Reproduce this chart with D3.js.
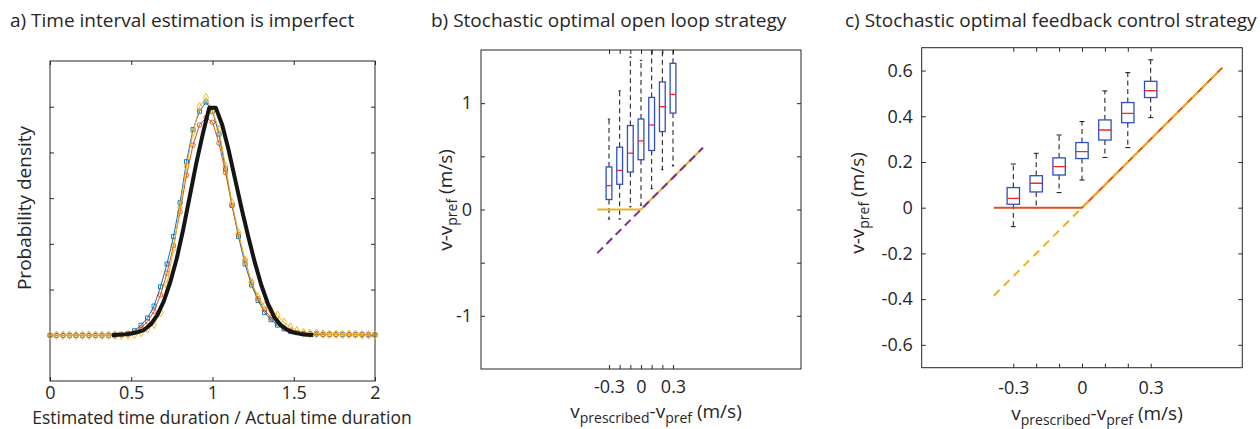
<!DOCTYPE html>
<html>
<head>
<meta charset="utf-8">
<script src="https://cdn.jsdelivr.net/npm/d3@7"></script>
<style>
body{margin:0;background:#fff}
text{font-family:"Open Sans","Noto Sans",sans-serif;fill:#262626}
</style>
</head>
<body>
<div id="fig"></div>
<script>

// ---- panel a : distributions of estimated / actual duration
var aX = [0,0.04,0.08,0.12,0.16,0.2,0.24,0.28,0.32,0.36,0.4,0.44,0.48,0.52,0.56,0.6,0.64,0.68,0.72,0.76,0.8,0.84,0.88,0.92,0.96,1,1.04,1.08,1.12,1.16,1.2,1.24,1.28,1.32,1.36,1.4,1.44,1.48,1.52,1.56,1.6,1.64,1.68,1.72,1.76,1.8,1.84,1.88,1.92,1.96,2]
var aBlue = [0,0,0,0,0,0,0,0,0,0,0.005,0.01,0.02,0.05,0.11,0.19,0.32,0.53,0.78,1.08,1.45,1.9,2.25,2.45,2.55,2.45,2.2,1.82,1.42,1.08,0.78,0.55,0.38,0.25,0.17,0.11,0.07,0.04,0.03,0.02,0.015,0.015,0.01,0.01,0.01,0.01,0.01,0.01,0.01,0.005,0.005]
var aRed = [0,0,0,0,0,0,0,0,0,0,0,0.005,0.01,0.03,0.08,0.15,0.26,0.44,0.68,0.98,1.35,1.75,2.08,2.3,2.38,2.33,2.1,1.78,1.42,1.1,0.82,0.58,0.4,0.28,0.19,0.13,0.08,0.05,0.03,0.02,0.015,0.01,0.01,0.01,0.01,0.005,0.005,0.005,0.005,0.005,0.005]
var aYellow = [0,0,0,0,0,0,0,0,0,0,0,0,0.005,0.01,0.03,0.07,0.12,0.25,0.55,0.95,1.4,1.85,2.22,2.5,2.6,2.45,2.25,1.85,1.45,1.12,0.82,0.58,0.42,0.32,0.27,0.22,0.14,0.09,0.05,0.03,0.02,0.02,0.015,0.01,0.01,0.01,0.01,0.01,0.005,0.005,0.005]
var aModelX = [0.38,0.42,0.46,0.5,0.54,0.58,0.62,0.66,0.7,0.74,0.78,0.82,0.86,0.9,0.94,0.98,1.02,1.06,1.1,1.14,1.18,1.22,1.26,1.3,1.34,1.38,1.42,1.46,1.5,1.54,1.58,1.62]
var aModel = [0,0.005,0.01,0.02,0.035,0.06,0.12,0.22,0.37,0.58,0.84,1.16,1.52,1.88,2.2,2.49,2.49,2.3,2.02,1.7,1.38,1.08,0.8,0.55,0.35,0.2,0.11,0.06,0.03,0.015,0.007,0.003]
var aXTicks = [0,0.5,1,1.5,2]
var aYTicks = [0,0.5,1,1.5,2,2.5]

// ---- panel b : open loop boxplots
var bPos = [-0.3,-0.2,-0.1,0,0.1,0.2,0.3]
var bLow = [-0.09,-0.09,0.025,0.04,0.196,0.374,0.41]
var bQ1 = [0.094,0.237,0.352,0.468,0.555,0.733,0.907]
var bMed = [0.225,0.368,0.53,0.645,0.795,0.967,1.082]
var bQ3 = [0.4,0.586,0.789,0.851,1.054,1.2,1.375]
var bHigh = [0.85,1.116,1.434,1.403,1.75,1.95,2.1]
var bLineX = [-0.41,0,0.58]
var bOpenLoop = [0,0,0.58]
var bDiagX = [-0.41,0.58]
var bDiag = [-0.41,0.58]
var bYTicks = [-1,-0.5,0,0.5,1]
var bYLabels = [-1,0,1]

// ---- panel c : feedback control boxplots
var cPos = [-0.3,-0.2,-0.1,0,0.1,0.2,0.3]
var cLow = [-0.083,0,0.066,0.121,0.22,0.263,0.394]
var cQ1 = [0.015,0.069,0.143,0.215,0.296,0.372,0.482]
var cMed = [0.041,0.107,0.18,0.245,0.34,0.413,0.512]
var cQ3 = [0.088,0.14,0.218,0.285,0.384,0.46,0.553]
var cHigh = [0.191,0.238,0.318,0.377,0.511,0.591,0.647]
var cLineX = [-0.385,0,0.613]
var cFeedback = [0,0,0.613]
var cDiagX = [-0.385,0.613]
var cDiag = [-0.385,0.613]
var cYTicks = [-0.6,-0.4,-0.2,0,0.2,0.4,0.6]

var vTicks = [-0.3,-0.2,-0.1,0,0.1,0.2,0.3]
var vLabels = [-0.3,0,0.3]

var W = 1260, H = 429
var axisCol = "#262626"

var svg = d3.select("#fig").append("svg")
	.attr("width", W)
	.attr("height", H)

function fmt(d){ return String(d) }

// box frame + inward ticks on all four sides
function frame(g, x, y, xt, yt, xlab, ylab, xpad, ypad, fs)
{
	var x0 = x.range()[0], x1 = x.range()[1], y0 = y.range()[0], y1 = y.range()[1]

	g.append("g").attr("transform", "translate(0," + y0 + ")")
		.call(d3.axisBottom(x).tickValues(xt).tickSizeInner(-4).tickSizeOuter(0).tickPadding(xpad)
			.tickFormat(function(d){ return xlab.indexOf(d) >= 0 ? fmt(d) : "" }))
	g.append("g").attr("transform", "translate(0," + y1 + ")")
		.call(d3.axisTop(x).tickValues(xt).tickSizeInner(-4).tickSizeOuter(0).tickFormat(""))
	g.append("g").attr("transform", "translate(" + x0 + ",0)")
		.call(d3.axisLeft(y).tickValues(yt).tickSizeInner(-4).tickSizeOuter(0).tickPadding(ypad)
			.tickFormat(function(d){ return ylab.indexOf(d) >= 0 ? fmt(d) : "" }))
	g.append("g").attr("transform", "translate(" + x1 + ",0)")
		.call(d3.axisRight(y).tickValues(yt).tickSizeInner(-4).tickSizeOuter(0).tickFormat(""))

	g.selectAll(".domain").remove()
	g.selectAll(".tick line").attr("stroke", axisCol)
	g.selectAll(".tick text").attr("font-size", fs).attr("fill", axisCol)
		.style("font-family", "'Open Sans', sans-serif")

	g.append("rect")
		.attr("x", x0).attr("y", y1)
		.attr("width", x1 - x0).attr("height", y0 - y1)
		.attr("fill", "none").attr("stroke", axisCol).attr("stroke-width", 1)
}

// label v-v_pref style text with subscripts
function subLabel(t, parts)
{
	parts.forEach(function(p){
		var ts = t.append("tspan").text(p[0])
		if(p[1]) ts.attr("font-size", 14).attr("dy", 5)
		else if(p[2]) ts.attr("dy", -5)
	})
}

function boxes(g, x, y, pos, low, q1, med, q3, high, id)
{
	var bw = Math.abs(x(0.027) - x(0))
	var cw = bw * 0.4

	g.append("clipPath").attr("id", id)
		.append("rect")
		.attr("x", x.range()[0]).attr("y", y.range()[1])
		.attr("width", x.range()[1] - x.range()[0])
		.attr("height", y.range()[0] - y.range()[1])

	var bg = g.append("g").attr("clip-path", "url(#" + id + ")")

	for(var i = 0; i < pos.length; i++)
	{
		var cx = x(pos[i])
		// whiskers
		bg.append("line").attr("x1", cx).attr("x2", cx).attr("y1", y(q3[i])).attr("y2", y(high[i]))
			.attr("stroke", "#111").attr("stroke-width", 1).attr("stroke-dasharray", "5,3.5")
		bg.append("line").attr("x1", cx).attr("x2", cx).attr("y1", y(q1[i])).attr("y2", y(low[i]))
			.attr("stroke", "#111").attr("stroke-width", 1).attr("stroke-dasharray", "5,3.5")
		// caps
		bg.append("line").attr("x1", cx - cw).attr("x2", cx + cw).attr("y1", y(high[i])).attr("y2", y(high[i]))
			.attr("stroke", "#111").attr("stroke-width", 1)
		bg.append("line").attr("x1", cx - cw).attr("x2", cx + cw).attr("y1", y(low[i])).attr("y2", y(low[i]))
			.attr("stroke", "#111").attr("stroke-width", 1)
		// box
		bg.append("rect").attr("x", cx - bw).attr("y", y(q3[i]))
			.attr("width", 2 * bw).attr("height", y(q1[i]) - y(q3[i]))
			.attr("fill", "white").attr("stroke", "#2f4fc0").attr("stroke-width", 1.3)
		bg.append("line").attr("x1", cx - bw).attr("x2", cx + bw).attr("y1", y(med[i])).attr("y2", y(med[i]))
			.attr("stroke", "#ff2020").attr("stroke-width", 1.3)
	}
}


//PANEL A
var xa = d3.scaleLinear().domain([0, 2]).range([50, 375])
var ya = d3.scaleLinear().domain([-0.5, 3]).range([381, 61])
var ga = svg.append("g")

frame(ga, xa, ya, aXTicks, aYTicks, aXTicks, [], 5.7, 4, 18)

var lineA = d3.line().x(function(d){ return xa(d[0]) }).y(function(d){ return ya(d[1]) })

var series = [
	{v: aBlue, c: "#0072BD", m: "square"},
	{v: aRed, c: "#D95319", m: "circle"},
	{v: aYellow, c: "#EDB120", m: "diamond"}
]

series.forEach(function(s){
	var pts = aX.map(function(x, i){ return [x, s.v[i]] })
	ga.append("path").attr("d", lineA(pts))
		.attr("fill", "none").attr("stroke", s.c).attr("stroke-width", 1)
	var sym = s.m == "square" ? d3.symbolSquare : (s.m == "circle" ? d3.symbolCircle : d3.symbolDiamond)
	var size = s.m == "diamond" ? 22 : 16
	ga.selectAll(null).data(pts).enter().append("path")
		.attr("d", d3.symbol().type(sym).size(size))
		.attr("transform", function(d){ return "translate(" + xa(d[0]) + "," + ya(d[1]) + ")" })
		.attr("fill", "none").attr("stroke", s.c).attr("stroke-width", 0.9)
})

ga.append("path")
	.attr("d", lineA(aModelX.map(function(x, i){ return [x, aModel[i]] })))
	.attr("fill", "none").attr("stroke", "#151515").attr("stroke-width", 4)
	.attr("stroke-linejoin", "round")

ga.append("text").attr("x", 10).attr("y", 27).attr("font-size", 19)
	.text("a) Time interval estimation is imperfect")
ga.append("text").attr("x", 222).attr("y", 423.8).attr("font-size", 17.5).attr("text-anchor", "middle")
	.text("Estimated time duration / Actual time duration")
ga.append("text").attr("transform", "translate(31,208) rotate(-90)").attr("font-size", 19)
	.attr("text-anchor", "middle").text("Probability density")


//PANEL B
var xb = d3.scaleLinear().domain([-1.5, 1.5]).range([481, 801])
var yb = d3.scaleLinear().domain([-1.5, 1.5]).range([369, 50])
var gb = svg.append("g")

frame(gb, xb, yb, vTicks, bYTicks, vLabels, bYLabels, 11, 9, 18)

var lineB = d3.line().x(function(d){ return xb(d[0]) }).y(function(d){ return yb(d[1]) })

boxes(gb, xb, yb, bPos, bLow, bQ1, bMed, bQ3, bHigh, "clipB")

gb.append("path").attr("d", lineB(bLineX.map(function(x, i){ return [x, bOpenLoop[i]] })))
	.attr("fill", "none").attr("stroke", "#EDB120").attr("stroke-width", 2)
gb.append("path").attr("d", lineB(bDiagX.map(function(x, i){ return [x, bDiag[i]] })))
	.attr("fill", "none").attr("stroke", "#7E2F8E").attr("stroke-width", 2).attr("stroke-dasharray", "8,5")

gb.append("text").attr("x", 431).attr("y", 27).attr("font-size", 19)
	.text("b) Stochastic optimal open loop strategy")

var tb = gb.append("text").attr("x", 656).attr("y", 418).attr("font-size", 19).attr("text-anchor", "middle")
subLabel(tb, [["v"], ["prescribed", 1], ["-v", 0, 1], ["pref", 1], [" (m/s)", 0, 1]])

var tby = gb.append("text").attr("transform", "translate(452,200) rotate(-90)").attr("font-size", 19).attr("text-anchor", "middle")
subLabel(tby, [["v-v"], ["pref", 1], [" (m/s)", 0, 1]])


//PANEL C
var xc = d3.scaleLinear().domain([-0.7, 0.7]).range([921.7, 1242.3])
var yc = d3.scaleLinear().domain([-0.7, 0.7]).range([367.7, 47.7])
var gc = svg.append("g")

frame(gc, xc, yc, vTicks, cYTicks, vLabels, cYTicks, 14, 9, 18)

var lineC = d3.line().x(function(d){ return xc(d[0]) }).y(function(d){ return yc(d[1]) })

boxes(gc, xc, yc, cPos, cLow, cQ1, cMed, cQ3, cHigh, "clipC")

gc.append("path").attr("d", lineC(cLineX.map(function(x, i){ return [x, cFeedback[i]] })))
	.attr("fill", "none").attr("stroke", "#D95319").attr("stroke-width", 2)
gc.append("path").attr("d", lineC(cDiagX.map(function(x, i){ return [x, cDiag[i]] })))
	.attr("fill", "none").attr("stroke", "#EDB120").attr("stroke-width", 2).attr("stroke-dasharray", "8,6")

gc.append("text").attr("x", 845).attr("y", 27).attr("font-size", 19)
	.text("c) Stochastic optimal feedback control strategy")

var tc = gc.append("text").attr("x", 1097).attr("y", 420).attr("font-size", 19).attr("text-anchor", "middle")
subLabel(tc, [["v"], ["prescribed", 1], ["-v", 0, 1], ["pref", 1], [" (m/s)", 0, 1]])

var tcy = gc.append("text").attr("transform", "translate(864,203) rotate(-90)").attr("font-size", 19).attr("text-anchor", "middle")
subLabel(tcy, [["v-v"], ["pref", 1], [" (m/s)", 0, 1]])

</script>
</body>
</html>
